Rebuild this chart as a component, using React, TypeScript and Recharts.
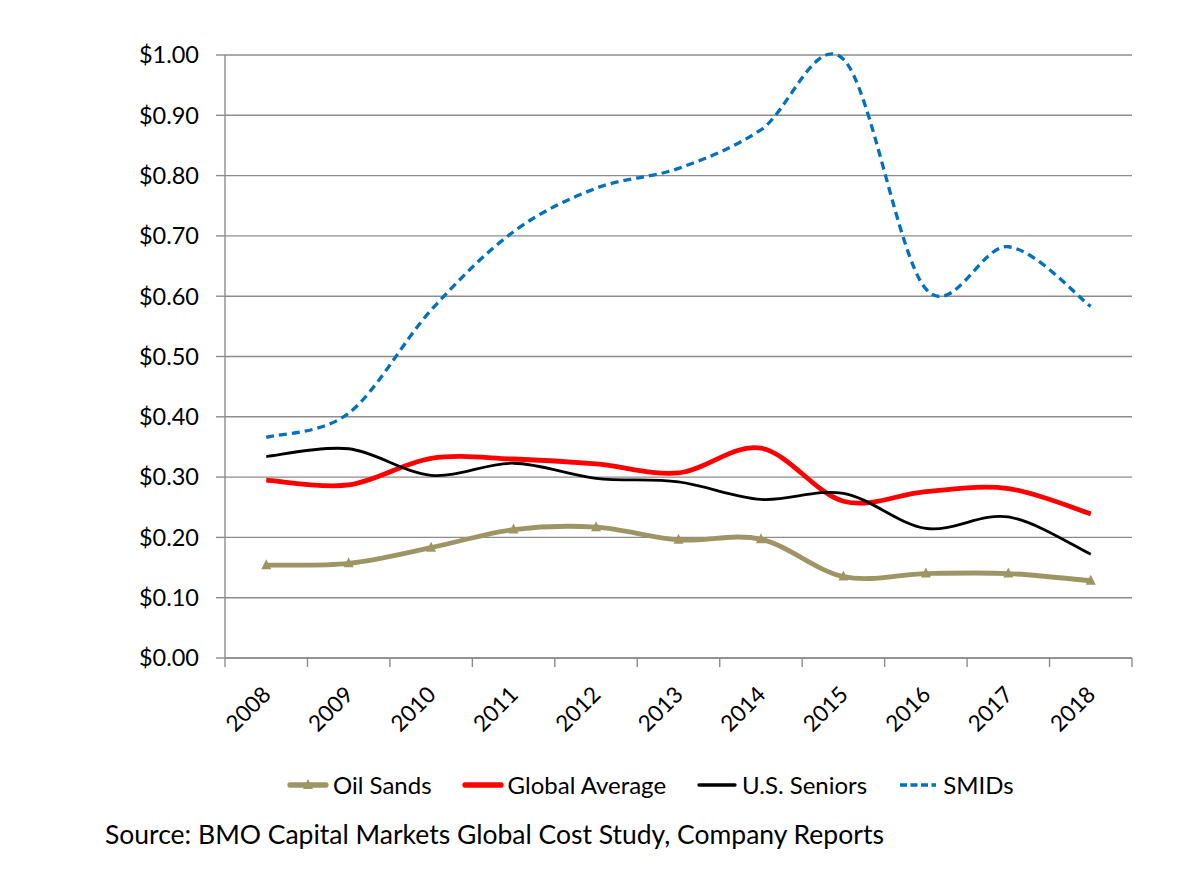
import React from 'react';
import { LineChart, Line, XAxis, YAxis, CartesianGrid } from 'recharts';

const years = ['2008', '2009', '2010', '2011', '2012', '2013', '2014', '2015', '2016', '2017', '2018'];
const oilSands = [0.154, 0.157, 0.183, 0.213, 0.217, 0.196, 0.197, 0.135, 0.14, 0.14, 0.128];
const globalAverage = [0.295, 0.287, 0.331, 0.33, 0.322, 0.307, 0.348, 0.26, 0.276, 0.281, 0.239];
const usSeniors = [0.334, 0.347, 0.303, 0.323, 0.298, 0.292, 0.263, 0.273, 0.215, 0.234, 0.172];
const smids = [0.366, 0.406, 0.577, 0.707, 0.779, 0.812, 0.876, 0.993, 0.612, 0.682, 0.583];
const yTicks = [0, 0.1, 0.2, 0.3, 0.4, 0.5, 0.6, 0.7, 0.8, 0.9, 1.0];
const sourceText = 'Source: BMO Capital Markets Global Cost Study, Company Reports';

const series = [
  { key: 'oil', name: 'Oil Sands', color: '#9E9565', width: 4.8, dash: undefined as string | undefined, marker: true },
  { key: 'global', name: 'Global Average', color: '#FF0000', width: 4.8, dash: undefined, marker: false },
  { key: 'seniors', name: 'U.S. Seniors', color: '#000000', width: 2.8, dash: undefined, marker: false },
  { key: 'smids', name: 'SMIDs', color: '#0070C0', width: 3.3, dash: '8 5', marker: false },
];

const data = years.map((year, i) => ({
  year,
  oil: oilSands[i],
  global: globalAverage[i],
  seniors: usSeniors[i],
  smids: smids[i],
}));

const FONT = 'Lato, "Open Sans", sans-serif';
const GRID = '#8C8C8C';

// Excel-like smoothed line (Catmull-Rom style Bezier)
function excelSmooth(context: any) {
  let pts: number[][] = [];
  return {
    areaStart() {},
    areaEnd() {},
    lineStart() {
      pts = [];
    },
    point(x: number, y: number) {
      pts.push([+x, +y]);
    },
    lineEnd() {
      if (!pts.length) return;
      context.moveTo(pts[0][0], pts[0][1]);
      if (pts.length === 1) return;
      const t = 1 / 6;
      for (let i = 0; i < pts.length - 1; i++) {
        const p0 = pts[i - 1] || pts[i];
        const p1 = pts[i];
        const p2 = pts[i + 1];
        const p3 = pts[i + 2] || p2;
        const c1x = p1[0] + (p2[0] - p0[0]) * t;
        const c1y = p1[1] + (p2[1] - p0[1]) * t;
        const c2x = p2[0] - (p3[0] - p1[0]) * t;
        const c2y = p2[1] - (p3[1] - p1[1]) * t;
        context.bezierCurveTo(c1x, c1y, c2x, c2y, p2[0], p2[1]);
      }
    },
  };
}

const XTick = (props: any) => {
  const { x, y, payload, index } = props;
  const off = payload && typeof payload.offset === 'number' ? payload.offset : 0;
  const tx = x + 6;
  const ty = y + 38;
  return (
    <g>
      <line x1={x - off} x2={x - off} y1={y} y2={y + 9} stroke={GRID} strokeWidth={1.4} />
      {index === years.length - 1 && (
        <line x1={x + off} x2={x + off} y1={y} y2={y + 9} stroke={GRID} strokeWidth={1.4} />
      )}
      <text
        x={tx}
        y={ty}
        textAnchor="end"
        transform={`rotate(-45 ${tx} ${ty})`}
        fontFamily={FONT}
        fontSize={22.5}
        fill="#000"
      >
        {payload.value}
      </text>
    </g>
  );
};

const OilDot = (props: any) => {
  const { cx, cy } = props;
  if (cx == null || cy == null) return null;
  return <path d={`M${cx - 5},${cy + 4} L${cx},${cy - 6} L${cx + 5},${cy + 4} Z`} fill="#9E9565" />;
};

const LegendIcon = ({ s }: { s: (typeof series)[number] }) => (
  <svg width={42} height={14} style={{ marginRight: 4 }}>
    <line
      x1={3}
      x2={39}
      y1={7}
      y2={7}
      stroke={s.color}
      strokeWidth={s.dash ? 3.3 : s.width + 0.5}
      strokeDasharray={s.dash ? '7 3.5' : undefined}
      strokeLinecap={s.dash ? 'butt' : 'round'}
    />
    {s.marker && <path d="M16,11 L21,1 L26,11 Z" fill={s.color} />}
  </svg>
);

export default function App() {
  return (
    <div style={{ position: 'relative', width: 1184, height: 870, background: '#fff' }}>
      <LineChart width={1184} height={760} data={data} margin={{ top: 47, right: 60, left: 0, bottom: 30 }}>
        <CartesianGrid horizontal vertical={false} stroke={GRID} strokeWidth={1.4} />
        <XAxis
          dataKey="year"
          scale="band"
          height={80}
          tickLine={false}
          tickSize={0}
          tickMargin={0}
          axisLine={{ stroke: GRID, strokeWidth: 1.4 }}
          tick={<XTick />}
          interval={0}
        />
        <YAxis
          width={217}
          domain={[0, 1]}
          ticks={yTicks}
          interval={0}
          tickFormatter={(v: number) => `$${v.toFixed(2)}`}
          tickSize={9}
          tickMargin={17}
          tickLine={{ stroke: GRID, strokeWidth: 1.4 }}
          axisLine={{ stroke: GRID, strokeWidth: 1.4 }}
          tick={{ fill: '#000', fontSize: 23.5, fontFamily: FONT }}
        />
        {series.map((s) => (
          <Line
            key={s.key}
            dataKey={s.key}
            name={s.name}
            type={excelSmooth as any}
            stroke={s.color}
            strokeWidth={s.width}
            strokeDasharray={s.dash}
            dot={s.marker ? <OilDot /> : false}
            activeDot={false}
            isAnimationActive={false}
          />
        ))}
      </LineChart>
      <div
        style={{
          position: 'absolute',
          left: 279,
          top: 762,
          display: 'flex',
          alignItems: 'center',
          gap: 30,
          fontFamily: FONT,
          fontSize: 24,
          color: '#000',
          whiteSpace: 'nowrap',
        }}
      >
        {series.map((s) => (
          <div key={s.key} style={{ display: 'flex', alignItems: 'center' }}>
            <LegendIcon s={s} />
            <span>{s.name}</span>
          </div>
        ))}
      </div>
      <div
        style={{
          position: 'absolute',
          left: 97,
          top: 810,
          fontFamily: FONT,
          fontSize: 26.5,
          color: '#000',
          whiteSpace: 'nowrap',
        }}
      >
        {sourceText}
      </div>
    </div>
  );
}
